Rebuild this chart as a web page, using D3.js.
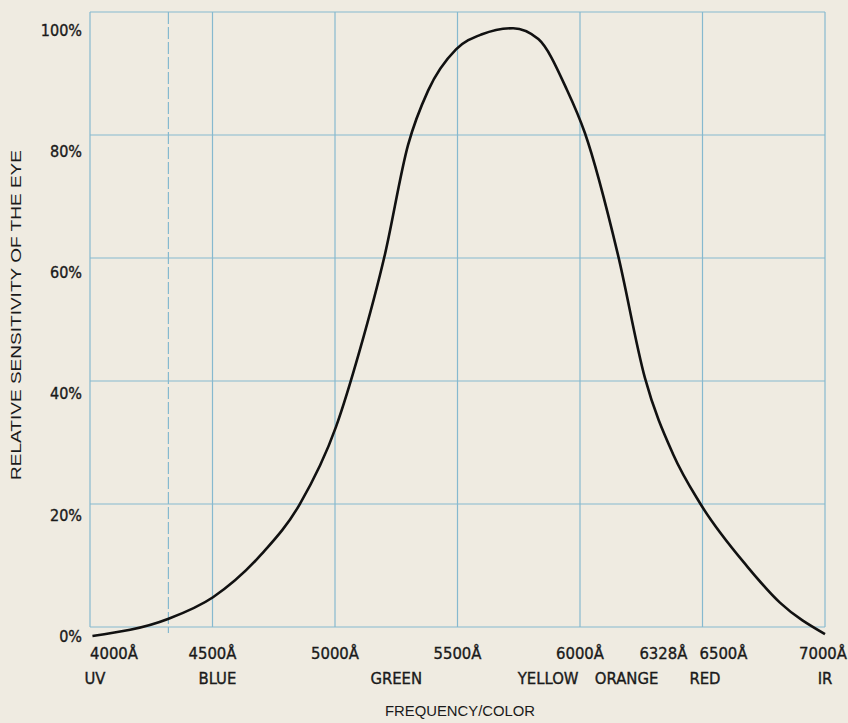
<!DOCTYPE html>
<html>
<head>
<meta charset="utf-8">
<script src="https://cdn.jsdelivr.net/npm/d3@7"></script>
<style>
  body { margin: 0; background: #efebe1; }
  text { font-family: "DejaVu Sans Condensed", "Liberation Sans Narrow", "Liberation Sans", sans-serif; fill: #1a1a1a; }
  .lab { stroke: #1a1a1a; stroke-width: 0.35px; }
  .title { font-family: "Liberation Sans", Arial, sans-serif; }
</style>
</head>
<body>
<div id="chart"></div>
<script>
// wavelength (angstrom) vs relative sensitivity (%)
var wavelength = [4010, 4318, 4502, 4700, 4857, 5004, 5100, 5204, 5298, 5380, 5494, 5600, 5727, 5830, 5947, 6020, 6155, 6265, 6380, 6490, 6682, 6816, 7000];
var sensitivity = [0, 2.8, 6.4, 13.5, 21.8, 34.5, 47, 63, 81, 90, 96.8, 99.3, 100.3, 98.5, 90.1, 83, 62.9, 42.6, 30, 21.9, 11.5, 5.5, 0.3];

var xTicks = [4000, 4500, 5000, 5500, 6000, 6328, 6500, 7000];
var gridX = [4000, 4500, 5000, 5500, 6000, 6500, 7000];
var dashedX = 4320;
var yTicks = [0, 20, 40, 60, 80, 100];

var colorNames = ["UV", "BLUE", "GREEN", "YELLOW", "ORANGE", "RED", "IR"];
var colorAt = [4020, 4520, 5250, 5870, 6190, 6510, 7000];

var w = 848, h = 723;
var svg = d3.select("#chart").append("svg")
    .attr("width", w)
    .attr("height", h);

var x = d3.scaleLinear().domain([4000, 7000]).range([90, 825]);
// grid is printed a bit higher than the curve / labels
var yGrid = d3.scaleLinear().domain([0, 100]).range([627, 12]);
var y = d3.scaleLinear().domain([0, 100]).range([636, 30]);

var gridColor = "#86b9cf";

// horizontal grid
svg.selectAll(".hgrid")
    .data(yTicks)
    .enter().append("line")
    .attr("class", "hgrid")
    .attr("x1", x(4000)).attr("x2", x(7000))
    .attr("y1", function(d) { return yGrid(d); })
    .attr("y2", function(d) { return yGrid(d); })
    .style("stroke", gridColor)
    .style("stroke-width", 1.2);

// vertical grid
svg.selectAll(".vgrid")
    .data(gridX)
    .enter().append("line")
    .attr("class", "vgrid")
    .attr("x1", function(d) { return x(d); })
    .attr("x2", function(d) { return x(d); })
    .attr("y1", yGrid(100)).attr("y2", yGrid(0))
    .style("stroke", gridColor)
    .style("stroke-width", 1.2);

svg.append("line")
    .attr("x1", x(dashedX)).attr("x2", x(dashedX))
    .attr("y1", yGrid(100)).attr("y2", yGrid(0) + 6)
    .style("stroke", gridColor)
    .style("stroke-width", 1.2)
    .style("stroke-dasharray", "12,3");

// y labels
svg.selectAll(".ylab")
    .data(yTicks)
    .enter().append("text")
    .attr("class", "ylab lab")
    .attr("x", 82)
    .attr("y", function(d) { return y(d); })
    .attr("dy", "0.36em")
    .attr("text-anchor", "end")
    .style("font-size", "16px")
    .text(function(d) { return d + "%"; });

// x labels
svg.selectAll(".xlab")
    .data(xTicks)
    .enter().append("text")
    .attr("class", "xlab lab")
    .attr("x", function(d) { return x(d); })
    .attr("y", 659)
    .attr("text-anchor", function(d) { return (d == 4000 || d == 6500) ? "start" : "middle"; })
    .attr("dx", function(d) { return d == 6500 ? -3 : (d == 6328 ? 3 : (d == 7000 ? -2 : 0)); })
    .style("font-size", "16.5px")
    .text(function(d) { return d + "Å"; });

svg.selectAll(".clab")
    .data(colorNames)
    .enter().append("text")
    .attr("class", "clab lab")
    .attr("x", function(d, i) { return x(colorAt[i]); })
    .attr("y", 684)
    .attr("text-anchor", "middle")
    .style("font-size", "16.5px")
    .text(function(d) { return d; });

// axis titles
svg.append("text")
    .attr("class", "title")
    .attr("x", 460).attr("y", 716)
    .attr("text-anchor", "middle")
    .style("font-size", "15px")
    .attr("textLength", 150)
    .attr("lengthAdjust", "spacingAndGlyphs")
    .text("FREQUENCY/COLOR");

svg.append("text")
    .attr("class", "title")
    .attr("transform", "translate(21,315) rotate(-90)")
    .attr("text-anchor", "middle")
    .style("font-size", "15px")
    .attr("textLength", 330)
    .attr("lengthAdjust", "spacingAndGlyphs")
    .text("RELATIVE SENSITIVITY OF THE EYE");

// the curve
var pts = wavelength.map(function(d, i) { return [d, sensitivity[i]]; });
var line = d3.line()
    .x(function(d) { return x(d[0]); })
    .y(function(d) { return y(d[1]); })
    .curve(d3.curveMonotoneX);

svg.append("path")
    .datum(pts)
    .attr("d", line)
    .style("fill", "none")
    .style("stroke", "#111")
    .style("stroke-width", 2.6);
</script>
</body>
</html>
